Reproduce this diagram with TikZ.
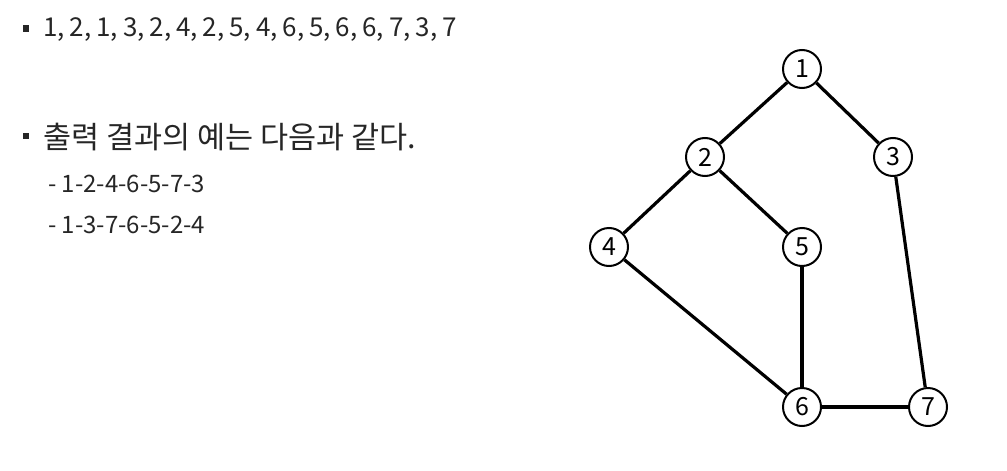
\documentclass[tikz,border=0pt]{standalone}
\usepackage{fontspec}
\setmainfont{Noto Sans CJK KR}
\newfontfamily\tightfont[WordSpace=0.85]{Noto Sans CJK KR}
\usepackage{xcolor}
\definecolor{ink}{RGB}{38, 38, 38}

\begin{document}
\begin{tikzpicture}[x=1pt, y=-1pt,
    vertex/.style={circle, draw, line width=2pt, minimum size=38pt, inner sep=0pt, font=\fontsize{25}{25}\selectfont},
    edge/.style={line width=3.2pt},
    item/.style={anchor=base west, inner sep=0pt, text=ink, font=\fontsize{27}{27}\selectfont},
    subitem/.style={anchor=base west, inner sep=0pt, text=ink, font=\fontsize{24}{24}\selectfont},
    bullet/.style={fill=ink, minimum size=6.5pt, inner sep=0pt}]
\useasboundingbox (0,0) rectangle (1007,471);

% Text
\node[bullet] (b1) at (26,28.5) {};
\node[item, font=\tightfont\fontsize{26}{26}\selectfont] (seq) at (43,36) {1, 2, 1, 3, 2, 4, 2, 5, 4, 6, 5, 6, 6, 7, 3, 7};
\node[bullet] (b2) at (26,136) {};
\node[item, font=\fontsize{30.5}{30.5}\selectfont] (out) at (43,148) {출력 결과의 예는 다음과 같다.};
\node[subitem] (ex1) at (48,192) {- 1-2-4-6-5-7-3};
\node[subitem] (ex2) at (48,233) {- 1-3-7-6-5-2-4};

% Graph
\foreach \n/\x/\y in {1/802/69, 2/705/157, 3/893/157, 4/609/247, 5/802/247, 6/802/407, 7/928/407}{
    \node[vertex] (v\n) at (\x,\y) {\n};
}
\foreach \a/\b in {1/2, 1/3, 2/4, 2/5, 4/6, 5/6, 6/7, 3/7}{
    \draw[edge] (v\a) -- (v\b);
}

\end{tikzpicture}
\end{document}
